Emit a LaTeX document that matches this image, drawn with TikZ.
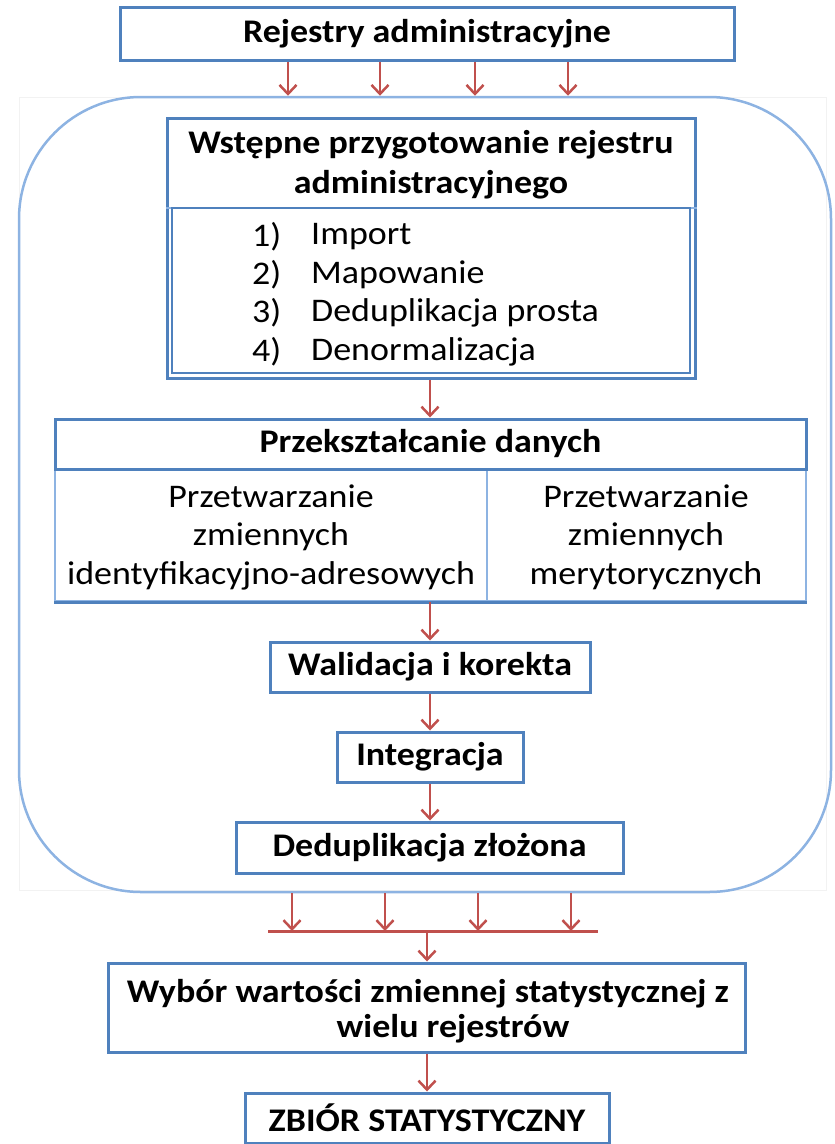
\documentclass[tikz,border=0pt]{standalone}
\usepackage{fontspec}
\setmainfont{Carlito}[FakeStretch=1.09]
\usetikzlibrary{arrows.meta}
\definecolor{boxblue}{HTML}{4F81BD}
\definecolor{lightblue}{HTML}{8DB3E2}
\definecolor{arrred}{HTML}{C0504D}
\begin{document}
\begin{tikzpicture}[x=1pt,y=-1pt,
  box/.style={draw=boxblue, line width=3pt, fill=white, inner sep=0pt, align=center},
  cell/.style={draw=lightblue, line width=2pt, inner sep=0pt},
  frame/.style={draw=lightblue, line width=2.5pt, rounded corners=122pt, inner sep=0pt},
  arr/.style={draw=arrred, line width=2.5pt, -{Straight Barb[length=9pt,width=17pt,line width=2.5pt]}},
  redline/.style={draw=arrred, line width=3pt},
  hb/.style={font=\bfseries\fontsize{33}{40}\selectfont, align=center, inner sep=0pt},
  tx/.style={font=\fontsize{33}{38.5}\selectfont, align=center, inner sep=0pt}]
\useasboundingbox (0,0) rectangle (835,1144);
% column coordinates
\coordinate (cx) at (430,0);
\coordinate (a1) at (288,0);
\coordinate (a2) at (380,0);
\coordinate (a3) at (475,0);
\coordinate (a4) at (568,0);
\coordinate (b1) at (292,0);
\coordinate (b2) at (385,0);
\coordinate (b3) at (478,0);
\coordinate (b4) at (571,0);
\coordinate (bl) at (268,931);
\coordinate (br) at (598,931);
\coordinate (bm) at (427,931);
% faint background frame
\draw[black!5, line width=0.8pt] (19,97) rectangle (826,890);
% big rounded frame
\node[frame, minimum width=812, minimum height=795] (frm) at (425,494.5) {};
% top box
\node[box, minimum width=614, minimum height=53, hb] (top) at (427,33.5) {Rejestry administracyjne};
% Wstepne przygotowanie
\node[box, minimum width=528, minimum height=260] (wst) at (431,248) {};
\draw[lightblue, line width=2pt] (wst.west |- 0,208) -- (wst.east |- 0,208);
\node[draw=boxblue, line width=2.5pt, minimum width=518, minimum height=165, inner sep=0pt] (wsti) at (431,290.5) {};
\node[hb] (wsth) at (431,165) {Wstępne przygotowanie rejestru\\administracyjnego};
\node[tx, anchor=west] (n1) at (252,237) {1)};
\node[tx, anchor=west] (n2) at (252,275) {2)};
\node[tx, anchor=west] (n3) at (252,313) {3)};
\node[tx, anchor=west] (n4) at (252,352) {4)};
\node[tx, anchor=west] (i1) at (311,237) {Import};
\node[tx, anchor=west] (i2) at (311,275) {Mapowanie};
\node[tx, anchor=west] (i3) at (311,313) {Deduplikacja prosta};
\node[tx, anchor=west] (i4) at (311,352) {Denormalizacja};
% Przeksztalcanie danych
\node[cell, minimum width=432, minimum height=132] (pl) at (271,535) {};
\node[cell, minimum width=319, minimum height=132] (pr) at (646.5,535) {};
\draw[boxblue, line width=3pt] (pl.south west) -- (pr.south east);
\node[box, minimum width=751, minimum height=50, hb] (przh) at (430.5,444) {Przekształcanie danych};
\node[tx] (plt) at (271,537) {Przetwarzanie\\zmiennych\\identyfikacyjno-adresowych};
\node[tx] (prt) at (646,537) {Przetwarzanie\\zmiennych\\merytorycznych};
% lower chain
\node[box, minimum width=320, minimum height=50, hb] (wal) at (430,667) {Walidacja i korekta};
\node[box, minimum width=186, minimum height=50, hb] (int) at (430,757) {Integracja};
\node[box, minimum width=387, minimum height=51, hb] (ded) at (429.5,847.5) {Deduplikacja złożona};
\node[box, minimum width=637, minimum height=89] (wyb) at (426.5,1007.5) {};
\node[hb] (wyb1) at (428,994) {Wybór wartości zmiennej statystycznej z};
\node[hb] (wyb2) at (453,1029) {wielu rejestrów};
\node[box, minimum width=364, minimum height=50, hb] (zb) at (427,1118) {ZBIÓR STATYSTYCZNY};
% arrows
\foreach \c in {a1,a2,a3,a4}
  \draw[arr] (top.south -| \c) -- (frm.north -| \c);
\draw[arr] (wst.south -| cx) -- (przh.north -| cx);
\draw[arr] (pl.south -| cx) -- (wal.north -| cx);
\draw[arr] (wal.south -| cx) -- (int.north -| cx);
\draw[arr] (int.south -| cx) -- (ded.north -| cx);
\foreach \c in {b1,b2,b3,b4}
  \draw[arr] (frm.south -| \c) -- (bl -| \c);
\draw[redline] (bl) -- (br);
\draw[arr] (bm) -- (wyb.north -| bm);
\draw[arr] (wyb.south -| bm) -- (zb.north -| bm);
\end{tikzpicture}
\end{document}
